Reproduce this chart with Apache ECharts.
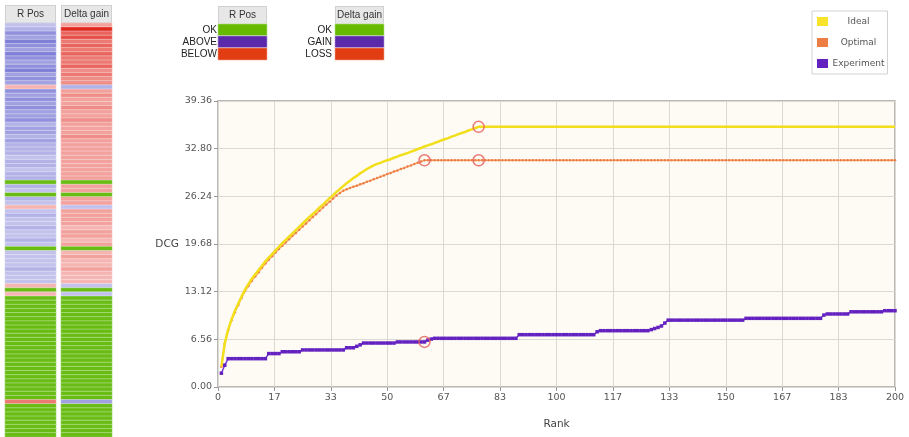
<!DOCTYPE html>
<html>
<head>
<meta charset="utf-8">
<title>DCG by rank</title>
<script src="https://cdn.jsdelivr.net/npm/echarts@6/dist/echarts.min.js"></script>
<style>
  html, body { margin: 0; padding: 0; background: #ffffff; }
  #chart { width: 909px; height: 437px; }
</style>
</head>
<body>
<div id="chart"></div>
<script>
// DCG per rank (ranks 1..200)
const idealDcg = [
  2.8, 6.0, 7.9, 9.3, 10.5, 11.5, 12.5, 13.4, 14.2, 14.9,
  15.5, 16.1, 16.7, 17.3, 17.8, 18.3, 18.8, 19.3, 19.8, 20.25,
  20.7, 21.15, 21.6, 22.05, 22.5, 22.95, 23.4, 23.8, 24.25, 24.7,
  25.1, 25.55, 26.0, 26.4, 26.85, 27.25, 27.65, 28.05, 28.4, 28.75,
  29.05, 29.4, 29.7, 30.0, 30.25, 30.5, 30.7, 30.85, 31.05, 31.2,
  31.35, 31.55, 31.7, 31.9, 32.05, 32.2, 32.4, 32.55, 32.75, 32.9,
  33.1, 33.25, 33.4, 33.6, 33.75, 33.95, 34.1, 34.25, 34.45, 34.6,
  34.8, 34.95, 35.1, 35.3, 35.45, 35.65, 35.8, 35.8, 35.8, 35.8,
  35.8, 35.8, 35.8, 35.8, 35.8, 35.8, 35.8, 35.8, 35.8, 35.8,
  35.8, 35.8, 35.8, 35.8, 35.8, 35.8, 35.8, 35.8, 35.8, 35.8,
  35.8, 35.8, 35.8, 35.8, 35.8, 35.8, 35.8, 35.8, 35.8, 35.8,
  35.8, 35.8, 35.8, 35.8, 35.8, 35.8, 35.8, 35.8, 35.8, 35.8,
  35.8, 35.8, 35.8, 35.8, 35.8, 35.8, 35.8, 35.8, 35.8, 35.8,
  35.8, 35.8, 35.8, 35.8, 35.8, 35.8, 35.8, 35.8, 35.8, 35.8,
  35.8, 35.8, 35.8, 35.8, 35.8, 35.8, 35.8, 35.8, 35.8, 35.8,
  35.8, 35.8, 35.8, 35.8, 35.8, 35.8, 35.8, 35.8, 35.8, 35.8,
  35.8, 35.8, 35.8, 35.8, 35.8, 35.8, 35.8, 35.8, 35.8, 35.8,
  35.8, 35.8, 35.8, 35.8, 35.8, 35.8, 35.8, 35.8, 35.8, 35.8,
  35.8, 35.8, 35.8, 35.8, 35.8, 35.8, 35.8, 35.8, 35.8, 35.8,
  35.8, 35.8, 35.8, 35.8, 35.8, 35.8, 35.8, 35.8, 35.8, 35.8
];

const optimalDcg = [
  2.8, 6.0, 7.8, 9.2, 10.3, 11.3, 12.3, 13.2, 13.9, 14.6,
  15.2, 15.8, 16.4, 17.0, 17.5, 18.0, 18.5, 19.0, 19.45, 19.9,
  20.35, 20.8, 21.2, 21.65, 22.1, 22.5, 22.95, 23.4, 23.8, 24.25,
  24.7, 25.1, 25.5, 25.95, 26.35, 26.7, 27.0, 27.2, 27.4, 27.55,
  27.7, 27.9, 28.05, 28.25, 28.4, 28.6, 28.75, 28.95, 29.1, 29.3,
  29.45, 29.65, 29.8, 30.0, 30.15, 30.35, 30.5, 30.7, 30.85, 31.05,
  31.2, 31.2, 31.2, 31.2, 31.2, 31.2, 31.2, 31.2, 31.2, 31.2,
  31.2, 31.2, 31.2, 31.2, 31.2, 31.2, 31.2, 31.2, 31.2, 31.2,
  31.2, 31.2, 31.2, 31.2, 31.2, 31.2, 31.2, 31.2, 31.2, 31.2,
  31.2, 31.2, 31.2, 31.2, 31.2, 31.2, 31.2, 31.2, 31.2, 31.2,
  31.2, 31.2, 31.2, 31.2, 31.2, 31.2, 31.2, 31.2, 31.2, 31.2,
  31.2, 31.2, 31.2, 31.2, 31.2, 31.2, 31.2, 31.2, 31.2, 31.2,
  31.2, 31.2, 31.2, 31.2, 31.2, 31.2, 31.2, 31.2, 31.2, 31.2,
  31.2, 31.2, 31.2, 31.2, 31.2, 31.2, 31.2, 31.2, 31.2, 31.2,
  31.2, 31.2, 31.2, 31.2, 31.2, 31.2, 31.2, 31.2, 31.2, 31.2,
  31.2, 31.2, 31.2, 31.2, 31.2, 31.2, 31.2, 31.2, 31.2, 31.2,
  31.2, 31.2, 31.2, 31.2, 31.2, 31.2, 31.2, 31.2, 31.2, 31.2,
  31.2, 31.2, 31.2, 31.2, 31.2, 31.2, 31.2, 31.2, 31.2, 31.2,
  31.2, 31.2, 31.2, 31.2, 31.2, 31.2, 31.2, 31.2, 31.2, 31.2,
  31.2, 31.2, 31.2, 31.2, 31.2, 31.2, 31.2, 31.2, 31.2, 31.2
];

const experimentDcg = [
  1.9, 3.0, 3.9, 3.9, 3.9, 3.9, 3.9, 3.9, 3.9, 3.9,
  3.9, 3.9, 3.9, 3.9, 4.6, 4.6, 4.6, 4.6, 4.85, 4.85,
  4.85, 4.85, 4.85, 4.85, 5.1, 5.1, 5.1, 5.1, 5.1, 5.1,
  5.1, 5.1, 5.1, 5.1, 5.1, 5.1, 5.1, 5.4, 5.4, 5.4,
  5.6, 5.8, 6.05, 6.05, 6.05, 6.05, 6.05, 6.05, 6.05, 6.05,
  6.05, 6.05, 6.2, 6.2, 6.2, 6.2, 6.2, 6.2, 6.2, 6.2,
  6.2, 6.45, 6.6, 6.7, 6.7, 6.7, 6.7, 6.7, 6.7, 6.7,
  6.7, 6.7, 6.7, 6.7, 6.7, 6.7, 6.7, 6.7, 6.7, 6.7,
  6.7, 6.7, 6.7, 6.7, 6.7, 6.7, 6.7, 6.7, 7.2, 7.2,
  7.2, 7.2, 7.2, 7.2, 7.2, 7.2, 7.2, 7.2, 7.2, 7.2,
  7.2, 7.2, 7.2, 7.2, 7.2, 7.2, 7.2, 7.2, 7.2, 7.2,
  7.2, 7.6, 7.75, 7.75, 7.75, 7.75, 7.75, 7.75, 7.75, 7.75,
  7.75, 7.75, 7.75, 7.75, 7.75, 7.75, 7.75, 7.9, 8.05, 8.2,
  8.4, 8.8, 9.2, 9.2, 9.2, 9.2, 9.2, 9.2, 9.2, 9.2,
  9.2, 9.2, 9.2, 9.2, 9.2, 9.2, 9.2, 9.2, 9.2, 9.2,
  9.2, 9.2, 9.2, 9.2, 9.2, 9.45, 9.45, 9.45, 9.45, 9.45,
  9.45, 9.45, 9.45, 9.45, 9.45, 9.45, 9.45, 9.45, 9.45, 9.45,
  9.45, 9.45, 9.45, 9.45, 9.45, 9.45, 9.45, 9.45, 9.9, 10.05,
  10.05, 10.05, 10.05, 10.05, 10.05, 10.05, 10.35, 10.35, 10.35, 10.35,
  10.35, 10.35, 10.35, 10.35, 10.35, 10.35, 10.5, 10.5, 10.5, 10.5
];

// ranks carrying a ring marker
const markedIdeal = [77];
const markedOptimal = [61, 77];
const markedExperiment = [61];

const seriesNames = ['Ideal', 'Optimal', 'Experiment'];

// per-document strips: 0 = OK, >0 = above / gain, <0 = below / loss (magnitude = strength)
const stripColumns = ['R Pos', 'Delta gain'];
const rPosLevels = [
  2, 3, 5, 4, 6, 5, 4, 6, 5, 4,
  5, 6, 4, 5, 4, -2, 5, 4, 5, 4,
  5, 4, 4, 5, 3, 4, 4, 3, 4, 3,
  3, 3, 2, 3, 3, 2, 3, 3, 0, 3,
  2, 0, 3, 2, -2, 2, 3, 2, 2, 3,
  2, 2, 3, 2, 0, 2, 2, 2, 2, 3,
  2, 2, 2, -2, 0, -2, 0, 0, 0, 0,
  0, 0, 0, 0, 0, 0, 0, 0, 0, 0,
  0, 0, 0, 0, 0, 0, 0, 0, 0, 0,
  0, -5, 0, 0, 0, 0, 0, 0, 0, 0
];
const deltaGainLevels = [
  -3, -9, -6, -7, -5, -6, -5, -6, -5, -5,
  -6, -4, -5, -4, -4, 3, -3, -4, -3, -3,
  -4, -3, -3, -4, -3, -3, -3, -4, -3, -3,
  -3, -3, -3, -3, -3, -3, -3, -3, 0, -3,
  -3, 0, -3, -3, 2, -3, -3, -3, -3, -2,
  -3, -3, -2, -3, 0, -2, -3, -2, -2, -3,
  -2, -2, -2, 2, 0, 2, 0, 0, 0, 0,
  0, 0, 0, 0, 0, 0, 0, 0, 0, 0,
  0, 0, 0, 0, 0, 0, 0, 0, 0, 0,
  0, 4, 0, 0, 0, 0, 0, 0, 0, 0
];

const rPosKeys = ['OK', 'ABOVE', 'BELOW'];
const deltaGainKeys = ['OK', 'GAIN', 'LOSS'];

// ---- styling helpers ----
const keyColors = ['#66bb00', '#5b2aab', '#e13c12'];
const gainBase = [77, 77, 199];
const lossBase = [225, 40, 30];
const okColor = '#68bc14';

function tint(base, a) {
  return 'rgb(' + base.map(c => Math.round(255 - a * (255 - c))).join(',') + ')';
}
function stripColor(level) {
  if (level === 0) return okColor;
  const a = Math.min(1, 0.15 + Math.abs(level) * 0.095);
  return tint(level > 0 ? gainBase : lossBase, a);
}

const toPairs = vals => vals.map((v, i) => [i + 1, v]);
const ringPoints = (ranks, vals) => ranks.map(r => [r, vals[r - 1]]);

const rowIds = rPosLevels.map((_, i) => String(i + 1));

const headerLabel = (w) => ({
  show: true,
  interval: 0,
  margin: 1,
  color: '#333',
  fontFamily: 'Liberation Sans',
  fontSize: 10,
  backgroundColor: '#e7e7e7',
  borderColor: '#d0d0d0',
  borderWidth: 1,
  width: w,
  height: 16,
  lineHeight: 16,
  align: 'center'
});

const keyLabel = (margin) => ({
  show: true,
  interval: 0,
  margin: margin,
  fontFamily: 'Liberation Sans',
  fontSize: 10,
  color: '#222'
});

const hiddenCat = (gridIndex, data, extra) => Object.assign({
  type: 'category',
  gridIndex: gridIndex,
  data: data,
  axisLine: { show: false },
  axisTick: { show: false },
  splitLine: { show: false },
  axisLabel: { show: false }
}, extra || {});

const mainFont = 'DejaVu Sans';

const chart = echarts.init(document.getElementById('chart'), null, { renderer: 'canvas' });

chart.setOption({
  animation: false,
  backgroundColor: '#ffffff',
  grid: [
    { left: 218, right: 14, top: 101, bottom: 50, show: true,
      backgroundColor: '#fdfbf4', borderColor: '#a3a3a3', borderWidth: 1.5 },
    { left: 5, top: 23, width: 51, height: 414 },
    { left: 61, top: 23, width: 51, height: 414 },
    { left: 218, top: 24, width: 49, height: 36 },
    { left: 335, top: 24, width: 49, height: 36 }
  ],
  legend: {
    data: seriesNames,
    orient: 'vertical',
    left: 812,
    top: 11,
    itemWidth: 11,
    itemHeight: 9,
    itemGap: 12,
    padding: [6, 3, 6, 5],
    borderColor: '#d2d2d2',
    borderWidth: 1,
    backgroundColor: '#ffffff',
    icon: 'rect',
    formatter: n => '{c|' + n + '}',
    textStyle: {
      fontFamily: mainFont,
      fontSize: 9,
      color: '#555',
      rich: { c: { width: 51, align: 'center', fontFamily: mainFont, fontSize: 9, color: '#555' } }
    }
  },
  xAxis: [
    {
      type: 'value', gridIndex: 0, min: 0, max: 200, interval: 200 / 12,
      name: 'Rank', nameLocation: 'middle', nameGap: 32,
      nameTextStyle: { fontFamily: mainFont, fontSize: 10.5, color: '#444' },
      axisLine: { show: false },
      axisTick: { show: true, length: 4, lineStyle: { color: '#999' } },
      axisLabel: { margin: 6, fontFamily: mainFont, fontSize: 9.5, color: '#555',
        formatter: v => String(Math.round(v)) },
      splitLine: { show: true, lineStyle: { color: '#dcd9d2', width: 1 } }
    },
    hiddenCat(1, [stripColumns[0]], { position: 'top', axisLabel: headerLabel(49) }),
    hiddenCat(2, [stripColumns[1]], { position: 'top', axisLabel: headerLabel(49) }),
    hiddenCat(3, [stripColumns[0]], { position: 'top', axisLabel: headerLabel(47) }),
    hiddenCat(4, [stripColumns[1]], { position: 'top', axisLabel: headerLabel(47) })
  ],
  yAxis: [
    {
      type: 'value', gridIndex: 0, min: 0, max: 39.36, interval: 6.56,
      name: 'DCG', nameLocation: 'middle', nameRotate: 0, nameGap: 38,
      nameTextStyle: { fontFamily: mainFont, fontSize: 10.5, color: '#444' },
      axisLine: { show: false },
      axisTick: { show: true, length: 4, lineStyle: { color: '#999' } },
      axisLabel: { margin: 6, fontFamily: mainFont, fontSize: 9.5, color: '#555',
        formatter: v => v.toFixed(2) },
      splitLine: { show: true, lineStyle: { color: '#dcd9d2', width: 1 } }
    },
    hiddenCat(1, rowIds, { inverse: true }),
    hiddenCat(2, rowIds, { inverse: true }),
    hiddenCat(3, rPosKeys, { inverse: true, axisLabel: keyLabel(1) }),
    hiddenCat(4, deltaGainKeys, { inverse: true, axisLabel: keyLabel(3) })
  ],
  series: [
    {
      name: 'Experiment', type: 'line', xAxisIndex: 0, yAxisIndex: 0, z: 2,
      data: toPairs(experimentDcg),
      symbol: 'rect', symbolSize: 3.5, showSymbol: true,
      itemStyle: { color: '#6322c0' },
      lineStyle: { color: '#7a3ad6', width: 1.5 }
    },
    {
      name: 'Optimal', type: 'line', xAxisIndex: 0, yAxisIndex: 0, z: 3,
      data: toPairs(optimalDcg),
      symbol: 'circle', symbolSize: 2.5, showSymbol: true,
      itemStyle: { color: '#ee7d44' },
      lineStyle: { color: '#f5a66c', width: 1.5 }
    },
    {
      name: 'Ideal', type: 'line', xAxisIndex: 0, yAxisIndex: 0, z: 4,
      data: toPairs(idealDcg),
      symbol: 'none',
      itemStyle: { color: '#f8e22a' },
      lineStyle: { color: '#f3de1c', width: 2.5 }
    },
    {
      type: 'scatter', xAxisIndex: 0, yAxisIndex: 0, z: 6, silent: true,
      data: ringPoints(markedIdeal, idealDcg)
        .concat(ringPoints(markedOptimal, optimalDcg))
        .concat(ringPoints(markedExperiment, experimentDcg)),
      symbol: 'circle', symbolSize: 11,
      itemStyle: { color: 'rgba(255,255,255,0)', borderColor: '#e65a58', borderWidth: 1.5 }
    },
    {
      type: 'heatmap', xAxisIndex: 1, yAxisIndex: 1, silent: true,
      data: rPosLevels.map((lv, i) => ({ value: [0, i, lv], itemStyle: { color: stripColor(lv) } })),
      itemStyle: { borderColor: 'rgba(255,255,255,0.35)', borderWidth: 1 }
    },
    {
      type: 'heatmap', xAxisIndex: 2, yAxisIndex: 2, silent: true,
      data: deltaGainLevels.map((lv, i) => ({ value: [0, i, lv], itemStyle: { color: stripColor(lv) } })),
      itemStyle: { borderColor: 'rgba(255,255,255,0.35)', borderWidth: 1 }
    },
    {
      type: 'heatmap', xAxisIndex: 3, yAxisIndex: 3, silent: true,
      data: rPosKeys.map((k, i) => ({ value: [0, i, i], itemStyle: { color: keyColors[i] } })),
      itemStyle: { borderColor: 'rgba(255,255,255,0.6)', borderWidth: 1 }
    },
    {
      type: 'heatmap', xAxisIndex: 4, yAxisIndex: 4, silent: true,
      data: deltaGainKeys.map((k, i) => ({ value: [0, i, i], itemStyle: { color: keyColors[i] } })),
      itemStyle: { borderColor: 'rgba(255,255,255,0.6)', borderWidth: 1 }
    }
  ]
});
</script>
</body>
</html>
